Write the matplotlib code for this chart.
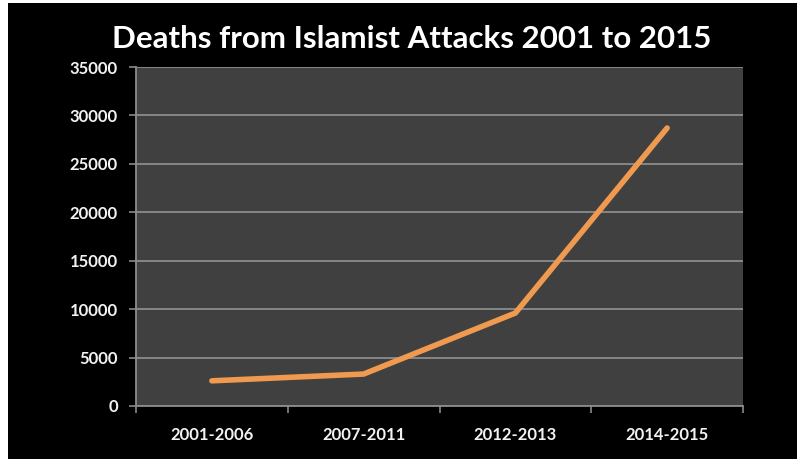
import matplotlib.pyplot as plt
from matplotlib.patches import Rectangle

periods = ["2001-2006", "2007-2011", "2012-2013", "2014-2015"]
deaths = [2600, 3300, 9600, 28700]
y_ticks = [0, 5000, 10000, 15000, 20000, 25000, 30000, 35000]

fig = plt.figure(figsize=(7.97, 4.59), dpi=100, facecolor="black")
ax = fig.add_axes([136 / 797, 1 - 406 / 459, (743 - 136) / 797, (406 - 67) / 459])
ax.set_facecolor("#404040")

ax.plot(range(len(periods)), deaths, color="#F09A50", linewidth=4,
        solid_capstyle="round", solid_joinstyle="miter", zorder=3)

ax.set_xlim(-0.5, len(periods) - 0.5)
ax.set_ylim(0, 35000)
ax.set_yticks(y_ticks)
ax.set_yticklabels([str(v) for v in y_ticks])
ax.set_xticks(range(len(periods)))
ax.set_xticklabels(periods)
ax.set_xticks([i - 0.5 for i in range(len(periods) + 1)], minor=True)
ax.tick_params(axis="x", which="major", length=0, pad=15)
ax.tick_params(axis="x", which="minor", length=5, color="#8a8a8a", width=1.2)
ax.tick_params(axis="y", length=5, color="#8a8a8a", width=1.2, pad=8)

for lab in ax.get_xticklabels() + ax.get_yticklabels():
    lab.set_family("Lato")
    lab.set_fontweight("bold")
    lab.set_fontsize(12)
    lab.set_color("#f2f2f2")

ax.grid(axis="y", color="#8c8c8c", linewidth=1.3)
ax.set_axisbelow(True)
for side in ["top", "right"]:
    ax.spines[side].set_visible(False)
for side in ["left", "bottom"]:
    ax.spines[side].set_color("#8c8c8c")
    ax.spines[side].set_linewidth(1.3)

fig.text(0.516, 1 - 39 / 459, "Deaths from Islamist Attacks 2001 to 2015",
         ha="center", va="center", color="white", fontsize=22.5,
         family="Lato", fontweight="bold")

# white strips at the left and top edge of the screenshot
fig.patches.append(Rectangle((0, 0), 8 / 797, 1, transform=fig.transFigure,
                             facecolor="white", edgecolor="none"))
fig.patches.append(Rectangle((0, 1 - 3 / 459), 1, 3 / 459, transform=fig.transFigure,
                             facecolor="white", edgecolor="none"))

fig.savefig("out.png", dpi=100, facecolor="black")
